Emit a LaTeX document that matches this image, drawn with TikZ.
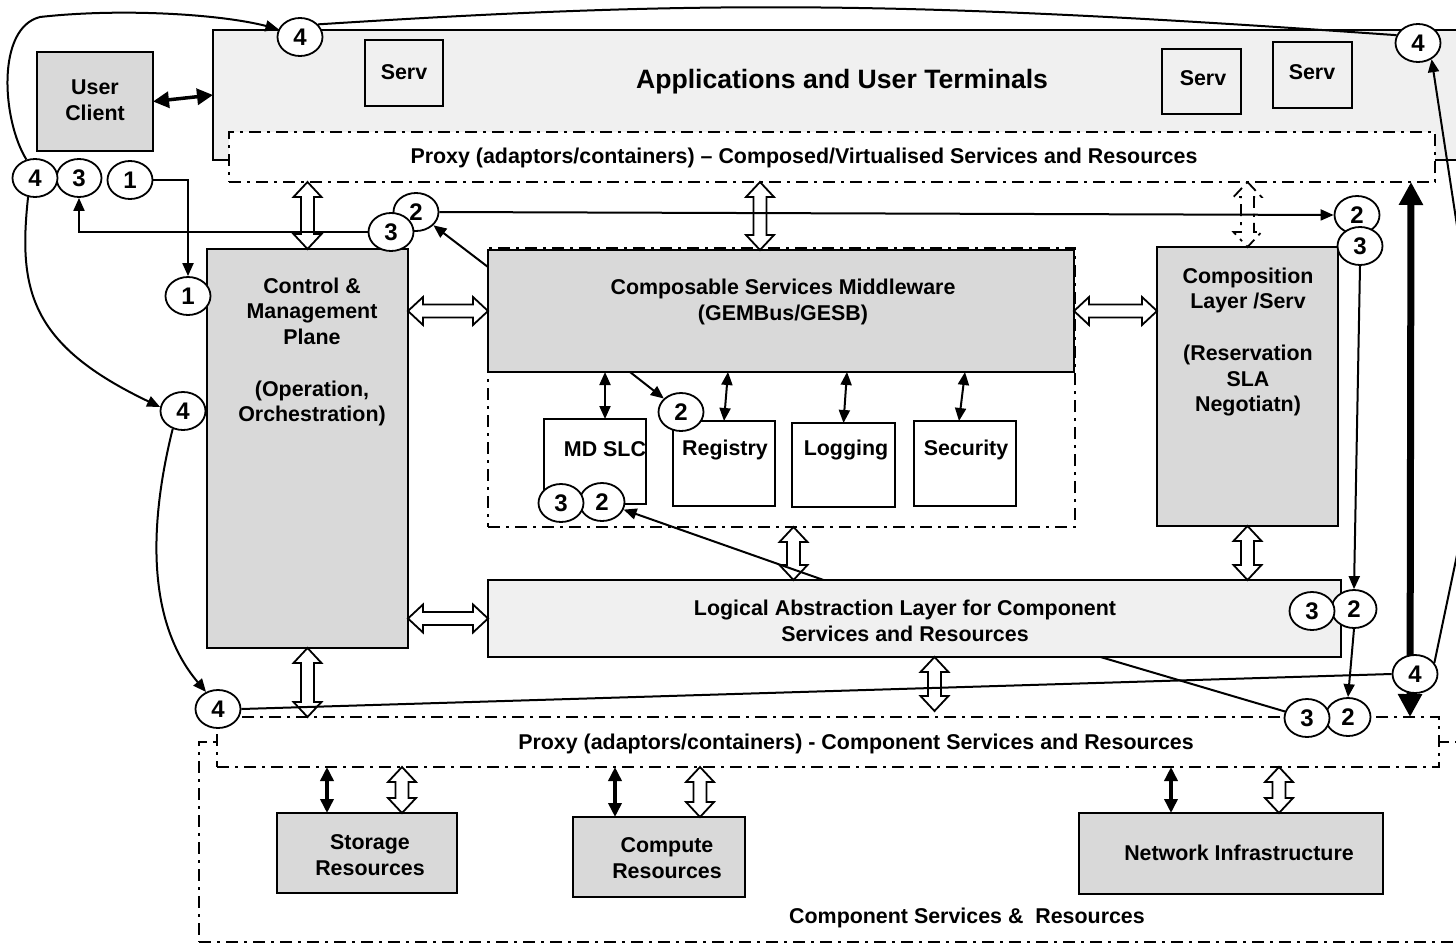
\documentclass[tikz,border=0pt]{standalone}
\usepackage{fontspec}
\setmainfont{Liberation Sans}
\usetikzlibrary{arrows.meta,calc,shapes.geometric}
\pgfdeclarelayer{bg}
\pgfdeclarelayer{mid}
\pgfsetlayers{bg,mid,main}
\definecolor{gfill}{HTML}{D9D9D9}
\definecolor{lfill}{HTML}{F0F0F0}
\newcommand\mkbox[6]{\node[#6, minimum width={#4-#2}, minimum height={#5-#3}] (#1) at ({(#2+#4)/2},{(#3+#5)/2}) {};}
\tikzset{
  bx/.style={draw, line width=2pt, inner sep=0pt, outer sep=0pt, rectangle},
  gbox/.style={bx, fill=gfill},
  lbox/.style={bx, fill=lfill},
  wbox/.style={bx, fill=white},
  obox/.style={bx},
  ddash/.style={dash pattern=on 12pt off 6pt on 3pt off 6pt},
  ddbox/.style={bx, ddash},
  txt/.style={font=\fontsize{21.4}{25.7}\selectfont\bfseries, align=center, inner sep=0pt},
  ell/.style={ellipse, draw, line width=1.8pt, fill=white, minimum width=45pt, minimum height=38pt, inner sep=0pt, font=\fontsize{24}{24}\selectfont\bfseries},
  plain/.style={line width=2pt},
  arr/.style={line width=2pt, -{Triangle[length=13pt,width=11pt]}},
  darr/.style={line width=2pt, {Triangle[length=13pt,width=11pt]}-{Triangle[length=13pt,width=11pt]}},
  sarr/.style={line width=3.5pt, {Triangle[length=14pt,width=13pt]}-{Triangle[length=14pt,width=13pt]}},
  ucarr/.style={line width=3.5pt, {Triangle[length=16pt,width=16pt]}-{Triangle[length=16pt,width=16pt]}},
  bigarr/.style={line width=7pt, {Triangle[length=23pt,width=23pt]}-{Triangle[length=23pt,width=23pt]}},
  hollow/.style={draw, fill=white, line width=1.8pt, line join=miter, to path={
    -- ($($(\tikztostart)!15pt!(\tikztotarget)$)!14pt!90:(\tikztotarget)$)
    -- ($($(\tikztostart)!15pt!(\tikztotarget)$)!6.5pt!90:(\tikztotarget)$)
    -- ($($(\tikztotarget)!15pt!(\tikztostart)$)!6.5pt!-90:(\tikztostart)$)
    -- ($($(\tikztotarget)!15pt!(\tikztostart)$)!14pt!-90:(\tikztostart)$)
    -- (\tikztotarget)
    -- ($($(\tikztotarget)!15pt!(\tikztostart)$)!14pt!90:(\tikztostart)$)
    -- ($($(\tikztotarget)!15pt!(\tikztostart)$)!6.5pt!90:(\tikztostart)$)
    -- ($($(\tikztostart)!15pt!(\tikztotarget)$)!6.5pt!-90:(\tikztotarget)$)
    -- ($($(\tikztostart)!15pt!(\tikztotarget)$)!14pt!-90:(\tikztotarget)$)
    -- cycle}},
  dhollow/.style={hollow, ddash}
}
\begin{document}
\begin{tikzpicture}[x=1pt,y=-1pt]
\useasboundingbox (0,0) rectangle (1456,945);
\begin{pgfonlayer}{bg}
% top application layer
\mkbox{apps}{213}{30}{1480}{160}{lbox}
\mkbox{serv1}{365}{40}{443}{106}{obox}
\mkbox{serv2}{1162}{49}{1241}{114}{obox}
\mkbox{serv3}{1273}{42}{1352}{108}{obox}
\mkbox{proxy1}{229}{132}{1435}{182}{ddbox, fill=white}
\mkbox{uc}{37}{52}{153}{151}{gbox}
% middle
\mkbox{ctrl}{207}{249}{408}{648}{gbox}
\mkbox{csmc}{488}{248}{1075}{527}{ddbox}
\mkbox{csm}{488}{250}{1074}{372}{gbox}
\mkbox{mdslc}{544}{419}{646}{504}{wbox}
\mkbox{registry}{673}{421}{775}{506}{wbox}
\mkbox{logging}{792}{423}{895}{507}{wbox}
\mkbox{security}{914}{421}{1016}{506}{wbox}
\mkbox{comp}{1157}{247}{1338}{526}{gbox}
\mkbox{logical}{488}{580}{1341}{657}{lbox}
% bottom
\mkbox{outer}{199}{742}{1480}{942}{ddbox}
\mkbox{proxy2}{217}{717}{1439}{767}{ddbox, fill=white}
\mkbox{storage}{277}{813}{457}{893}{gbox}
\mkbox{compute}{573}{817}{745}{897}{gbox}
\mkbox{network}{1079}{813}{1383}{894}{gbox}
% texts
\node[txt, font=\fontsize{26.6}{30}\selectfont\bfseries] (tapps) at (842,82) {Applications and User Terminals};
\node[txt] (tserv1) at (404,72) {Serv};
\node[txt] (tserv2) at (1203,78) {Serv};
\node[txt] (tserv3) at (1312,72) {Serv};
\node[txt] (tuc) at (95,100) {User\\Client};
\node[txt] (tproxy1) at (804,158) {Proxy (adaptors/containers) -- Composed/Virtualised Services and Resources};
\node[txt] (tctrl) at (312,352) {Control \&\\Management\\Plane\\[25.7pt](Operation,\\Orchestration)};
\node[txt] (tcsm) at (783,302) {Composable Services Middleware\\(GEMBus/GESB)};
\node[txt] (tmd) at (605,449) {MD SLC};
\node[txt] (treg) at (725,450) {Registry};
\node[txt] (tlog) at (846,450) {Logging};
\node[txt] (tsec) at (966,450) {Security};
\node[txt] (tcomp) at (1248,342) {Composition\\Layer /Serv\\[25.7pt](Reservation\\SLA\\Negotiatn)};
\node[txt] (tlogical) at (905,621) {Logical Abstraction Layer for Component\\Services and Resources};
\node[txt] (tproxy2) at (856,744) {Proxy (adaptors/containers) - Component Services and Resources};
\node[txt] (tstor) at (370,855) {Storage\\Resources};
\node[txt] (tcmpt) at (667,858) {Compute\\Resources};
\node[txt] (tnet) at (1239,853) {Network Infrastructure};
\node[txt] (touter) at (967,918) {Component Services \&~~Resources};
% hollow arrows
\draw[hollow] (ctrl.north |- proxy1.south) to (ctrl.north);
\coordinate (hv2) at ($(csm.north)+(-21,0)$);
\draw[hollow] (hv2 |- proxy1.south) to (hv2);
\draw[dhollow] (comp.north |- proxy1.south) to (comp.north);
\draw[hollow] (ctrl.east |- csm.west) to (csm.west);
\draw[hollow] (csm.east) to (comp.west |- csm.east);
\draw[hollow] (ctrl.east |- logical.west) to (logical.west);
\coordinate (hv5) at ($(csmc.south)+(12,0)$);
\draw[hollow] (hv5) to (hv5 |- logical.north);
\draw[hollow] (comp.south) to (comp.south |- logical.north);
\draw[hollow] (ctrl.south) to (ctrl.south |- proxy2.north);
\coordinate (hv7) at ($(logical.south)+(20,0)$);
\draw[hollow] (hv7) to ($(hv7 |- proxy2.north)+(0,-6)$);
\coordinate (hs1) at ($(storage.north)+(35,0)$);
\draw[hollow] (hs1 |- proxy2.south) to (hs1);
\coordinate (hs2) at ($(compute.north)+(41,0)$);
\draw[hollow] (hs2 |- proxy2.south) to (hs2);
\coordinate (hs3) at ($(network.north)+(48,0)$);
\draw[hollow] (hs3 |- proxy2.south) to (hs3);
\end{pgfonlayer}
% numbered markers
\node[ell] (e2a) at (416,212) {2};
\node[ell] (e2b) at (1357,215) {2};
\node[ell] (e2c) at (681,412) {2};
\node[ell] (e2d) at (602,502) {2};
\node[ell] (e2e) at (1354,609) {2};
\node[ell] (e2f) at (1348,717) {2};
\node[ell] (e3a) at (79,178) {3};
\node[ell] (e3b) at (391,232) {3};
\node[ell] (e3c) at (1360,246) {3};
\node[ell] (e3d) at (561,503) {3};
\node[ell] (e3e) at (1312,611) {3};
\node[ell] (e3f) at (1307,718) {3};
\node[ell] (e1a) at (130,180) {1};
\node[ell] (e1b) at (188,296) {1};
\node[ell] (e4a) at (300,37) {4};
\node[ell] (e4b) at (1418,43) {4};
\node[ell] (e4c) at (35,178) {4};
\node[ell] (e4d) at (183,411) {4};
\node[ell] (e4e) at (218,709) {4};
\node[ell] (e4f) at (1415,674) {4};
\begin{pgfonlayer}{mid}
\draw[ucarr] (uc.east) -- (apps.west);
\draw[arr] (e1a.east) -| (e1b.north);
\draw[arr] (e3b.west) -| (e3a.south);
\draw[arr] (e2a.east) -- (e2b.west);
\draw[arr] ($(csm.north west)+(0,17)$) -- (e2a);
\draw[arr] ($(csm.south)+(-151,0)$) -- (e2c);
\draw[darr] ($(csm.south)+(-176,0)$) -- ($(mdslc.north)+(10,0)$);
\draw[darr] ($(csm.south)+(-53,0)$) -- (registry.north);
\draw[darr] ($(csm.south)+(66,0)$) -- (logging.north);
\draw[darr] ($(csm.south)+(184,0)$) -- ($(security.north)+(-6,0)$);
\draw[arr] ($(logical.north)+(-91,0)$) -- (e2d);
\draw[arr] (e3c.south) -- (e2e.north);
\draw[arr] (e2e.south) -- (e2f.north);
\draw[plain] ($(logical.south)+(186,0)$) -- (e3f);
\draw[plain] (e4e.east) -- (e4f.west);
\draw[arr] (e4f.30) -- (1470,493) -- (1470,311) -- (e4b.-50);
\draw[plain] (e4a.35) .. controls (700,0) and (900,0) .. (e4b.160);
\draw[arr] (e4c.115) .. controls (2,120) and (-4,28) .. (40,17) .. controls (120,8) and (220,14) .. (e4a.160);
\draw[arr] (e4c.250) .. controls (18,290) and (30,345) .. (e4d.170);
\draw[arr] (e4d.240) .. controls (150,520) and (145,620) .. (e4e.125);
\draw[bigarr] ($(proxy1.south east)+(-24,0)$) -- ($(proxy2.north east)+(-29,0)$);
\coordinate (ss1) at ($(storage.north)+(-40,0)$);
\draw[sarr] (ss1 |- proxy2.south) -- (ss1);
\coordinate (ss2) at ($(compute.north)+(-44,0)$);
\draw[sarr] (ss2 |- proxy2.south) -- (ss2);
\coordinate (ss3) at ($(network.north)+(-60,0)$);
\draw[sarr] (ss3 |- proxy2.south) -- (ss3);
\end{pgfonlayer}
\end{tikzpicture}
\end{document}
